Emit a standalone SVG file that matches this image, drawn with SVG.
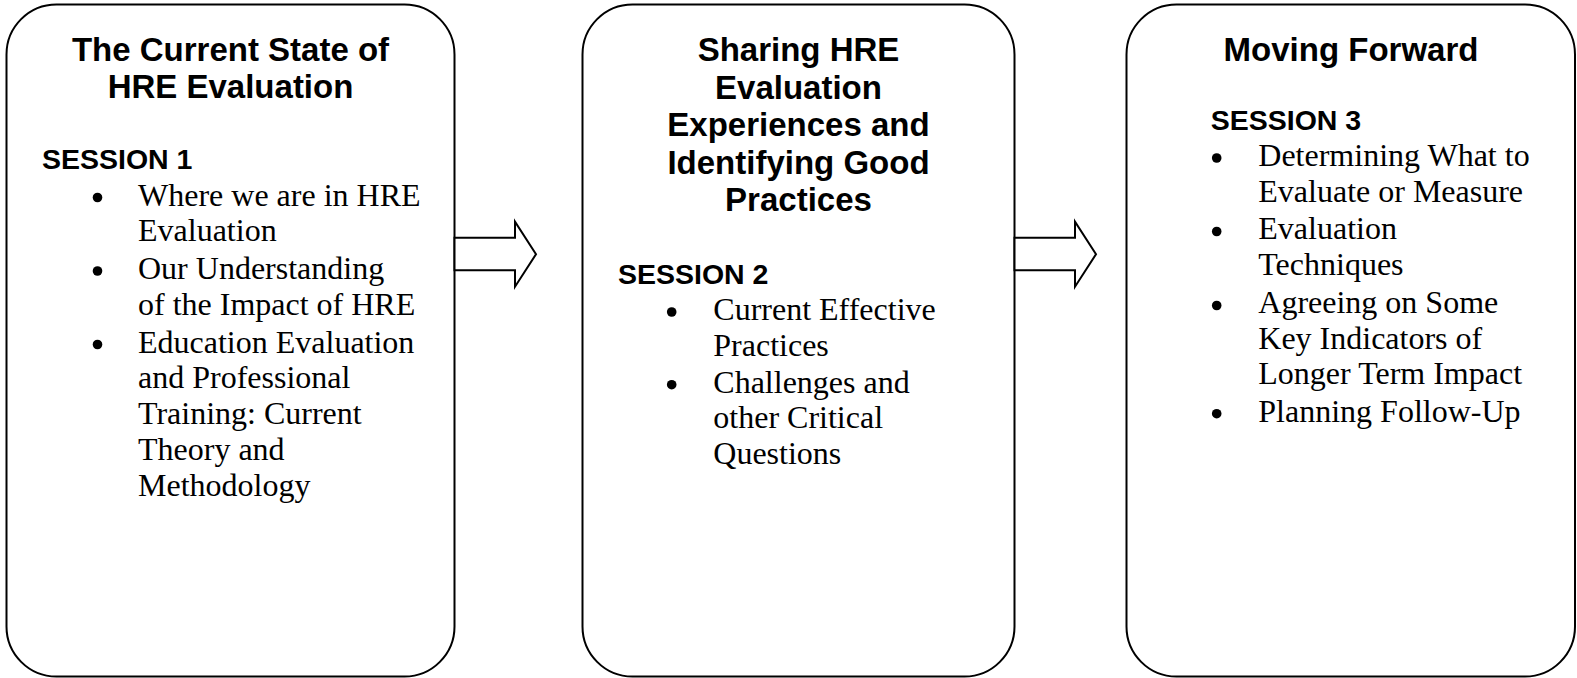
<svg xmlns="http://www.w3.org/2000/svg" width="1577" height="678" viewBox="0 0 1577 678">
<style>
.box{fill:#fff;stroke:#000;stroke-width:2}
.arrow{fill:#fff;stroke:#000;stroke-width:2;stroke-linejoin:miter}
.title{font-family:"Liberation Sans",Arial,sans-serif;font-weight:bold;font-size:33px;fill:#000;text-anchor:middle}
.sess{font-family:"Liberation Sans",Arial,sans-serif;font-weight:bold;font-size:28.5px;fill:#000}
.item{font-family:"Liberation Serif","Times New Roman",serif;font-size:32px;fill:#000}
.dot{fill:#000}
</style>
<rect width="1577" height="678" fill="#fff"/>
<g id="node-session1">
<rect class="box" x="6.5" y="4.5" width="448" height="672" rx="50" ry="50"/>
<text class="title" x="230.5" y="60.5">The Current State of</text>
<text class="title" x="230.5" y="98">HRE Evaluation</text>
<text class="sess" x="42" y="168.5">SESSION 1</text>
<circle class="dot" cx="97.5" cy="197.5" r="4.8"/>
<circle class="dot" cx="97.5" cy="271" r="4.8"/>
<circle class="dot" cx="97.5" cy="344.5" r="4.8"/>
<text class="item" x="138" y="205.5">Where we are in HRE</text>
<text class="item" x="138" y="241.3">Evaluation</text>
<text class="item" x="138" y="279">Our Understanding</text>
<text class="item" x="138" y="314.8">of the Impact of HRE</text>
<text class="item" x="138" y="352.5">Education Evaluation</text>
<text class="item" x="138" y="388.3">and Professional</text>
<text class="item" x="138" y="424.1">Training: Current</text>
<text class="item" x="138" y="459.9">Theory and</text>
<text class="item" x="138" y="495.7">Methodology</text>
</g>
<g id="node-session2">
<rect class="box" x="582.5" y="4.5" width="432" height="672" rx="50" ry="50"/>
<text class="title" x="798.5" y="61">Sharing HRE</text>
<text class="title" x="798.5" y="98.5">Evaluation</text>
<text class="title" x="798.5" y="136">Experiences and</text>
<text class="title" x="798.5" y="173.5">Identifying Good</text>
<text class="title" x="798.5" y="211">Practices</text>
<text class="sess" x="618" y="283.5">SESSION 2</text>
<circle class="dot" cx="671.7" cy="312" r="4.8"/>
<circle class="dot" cx="671.7" cy="384.7" r="4.8"/>
<text class="item" x="713.3" y="320">Current Effective</text>
<text class="item" x="713.3" y="355.5">Practices</text>
<text class="item" x="713.3" y="392.7">Challenges and</text>
<text class="item" x="713.3" y="428.3">other Critical</text>
<text class="item" x="713.3" y="463.5">Questions</text>
</g>
<g id="node-session3">
<rect class="box" x="1126.5" y="4.5" width="448.5" height="672" rx="50" ry="50"/>
<text class="title" x="1351" y="61">Moving Forward</text>
<text class="sess" x="1210.7" y="130">SESSION 3</text>
<circle class="dot" cx="1216.7" cy="158" r="4.8"/>
<circle class="dot" cx="1216.7" cy="231.5" r="4.8"/>
<circle class="dot" cx="1216.7" cy="305.5" r="4.8"/>
<circle class="dot" cx="1216.7" cy="413.7" r="4.8"/>
<text class="item" x="1258.3" y="165.7">Determining What to</text>
<text class="item" x="1258.3" y="201.7">Evaluate or Measure</text>
<text class="item" x="1258.3" y="239.3">Evaluation</text>
<text class="item" x="1258.3" y="275">Techniques</text>
<text class="item" x="1258.3" y="313.3">Agreeing on Some</text>
<text class="item" x="1258.3" y="348.5">Key Indicators of</text>
<text class="item" x="1258.3" y="384">Longer Term Impact</text>
<text class="item" x="1258.3" y="421.7">Planning Follow-Up</text>
</g>
<g id="connectors">
<path class="arrow" d="M454.5,237.7 H515 V221.7 L536,254.2 L515,286.7 V270.3 H454.5 Z"/>
<path class="arrow" d="M1014.5,237.7 H1075 V221.7 L1096,254.2 L1075,286.7 V270.3 H1014.5 Z"/>
</g>
</svg>
